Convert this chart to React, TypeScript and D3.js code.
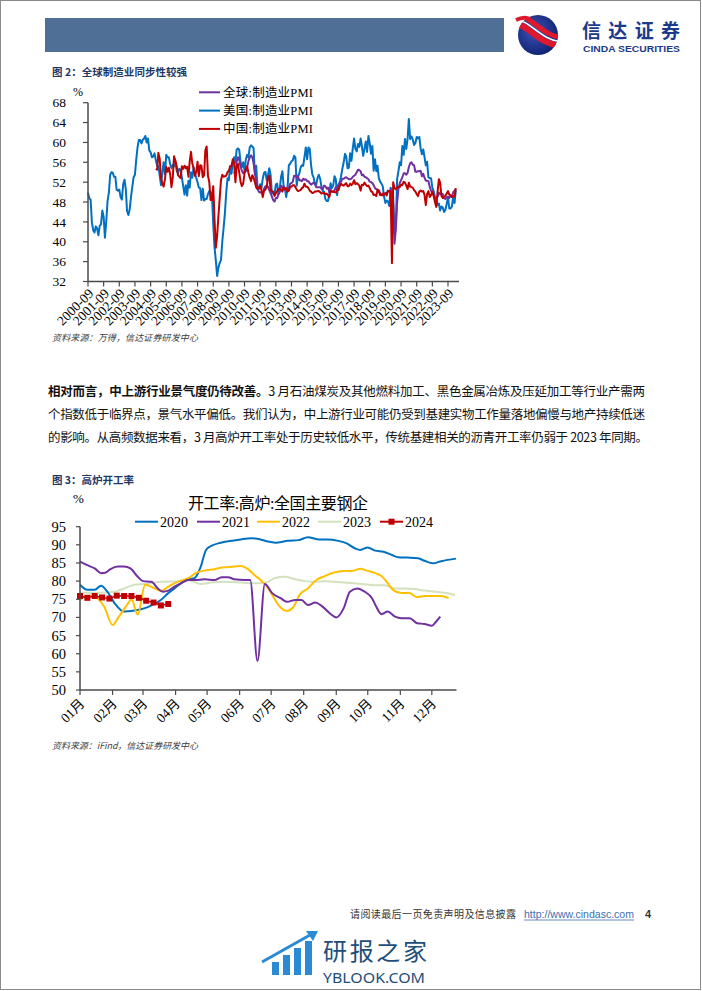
import React from 'react';
import * as d3 from 'd3';

const SERIF = "'Liberation Serif', 'Noto Sans CJK SC', serif";
const CJK = "'Noto Sans CJK SC', 'Noto Sans', sans-serif";

// 图2: 月度 PMI
const usStart = '2000-09';
const usPmi = [
  49.9, 48.7, 48.5, 43.9,
  42.3, 41.9, 43.1, 42.7, 41.3, 43.2, 43.5, 46.3, 45.0, 40.8, 44.1, 48.2,
  49.9, 53.5, 54.0, 53.9, 53.1, 53.1, 50.5, 50.3, 50.5, 49.0, 48.5, 51.6,
  52.5, 50.5, 46.2, 45.4, 46.5, 49.0, 51.0, 53.0, 53.5, 56.5, 59.0, 60.5,
  60.5, 59.8, 60.5, 60.8, 61.3, 60.0, 60.8, 58.4, 58.0, 57.0, 57.2, 57.8,
  56.4, 55.3, 55.2, 53.3, 51.4, 53.8, 56.0, 53.6, 57.5, 57.0, 57.0, 55.6,
  54.8, 55.5, 55.2, 56.0, 54.4, 53.8, 54.7, 54.5, 52.9, 51.2, 49.5, 51.4,
  49.3, 52.3, 50.9, 54.0, 52.9, 55.0, 53.8, 52.9, 52.0, 50.9, 50.8, 48.4,
  50.7, 48.3, 48.6, 48.6, 49.6, 50.2, 50.0, 49.9, 43.5, 38.9, 36.2, 33.1,
  34.9, 35.8, 36.3, 40.1, 42.8, 45.8, 49.9, 52.8, 52.4, 55.2, 53.7, 55.9,
  57.0, 56.0, 58.5, 58.8, 58.5, 56.0, 55.0, 56.0, 54.4, 56.5, 57.5, 57.0,
  59.0, 59.4, 59.2, 58.8, 53.5, 55.3, 50.9, 50.6, 51.6, 50.8, 52.7, 53.9,
  54.1, 52.4, 53.4, 54.8, 53.5, 49.7, 49.8, 49.6, 51.5, 51.7, 49.5, 50.7,
  53.1, 54.2, 51.3, 50.7, 49.0, 50.9, 55.4, 55.7, 56.2, 56.4, 57.3, 57.0,
  51.3, 53.2, 53.7, 54.9, 55.4, 55.3, 57.1, 59.0, 56.6, 59.0, 58.7, 55.5,
  53.5, 52.9, 51.5, 51.5, 52.8, 53.5, 52.7, 51.1, 50.2, 50.1, 48.6, 48.2,
  48.2, 49.5, 51.8, 50.8, 51.3, 53.2, 52.6, 49.4, 51.5, 51.9, 53.2, 54.7,
  56.0, 57.7, 57.2, 54.8, 54.9, 57.8, 56.3, 58.8, 60.8, 58.7, 58.2, 59.7,
  59.1, 60.8, 59.3, 57.3, 58.7, 60.2, 58.1, 61.3, 59.8, 57.7, 59.3, 54.3,
  56.6, 54.2, 55.3, 52.8, 52.1, 51.7, 51.2, 49.1, 47.8, 48.3, 48.1, 47.2,
  50.9, 50.1, 49.1, 41.5, 43.1, 52.6, 54.2, 56.0, 55.4, 59.3, 57.5, 60.7,
  58.7, 60.8, 64.7, 60.7, 61.2, 60.6, 59.5, 59.9, 61.1, 60.8, 61.1, 58.8,
  57.6, 58.6, 57.1, 55.4, 56.1, 53.0, 52.8, 52.8, 50.9, 50.2, 49.0, 48.4,
  47.4, 47.7, 46.3, 47.1, 46.9, 46.0, 46.4, 47.6, 49.0, 46.7, 46.7, 47.1,
  49.1, 47.8, 50.3,
];

const chinaStart = '2005-01';
const chinaPmi = [
  54.7, 54.5, 57.9, 56.7, 52.9, 51.7, 51.1, 52.6, 55.1, 54.1, 54.9, 53.6,
  51.0, 53.0, 57.2, 56.4, 55.3, 53.4, 53.1, 52.8, 55.2, 54.7, 55.3, 54.8,
  55.1, 53.1, 56.1, 58.1, 55.8, 54.8, 53.3, 54.0, 56.1, 53.2, 55.4, 55.3,
  53.0, 53.4, 58.4, 59.2, 53.3, 52.0, 48.4, 48.4, 51.2, 44.6, 38.8, 41.2,
  45.3, 49.0, 52.4, 53.5, 53.1, 53.2, 53.3, 54.0, 54.3, 55.2, 55.2, 56.6,
  55.8, 52.0, 55.1, 55.7, 53.9, 52.1, 51.2, 51.7, 53.8, 54.7, 55.2, 53.9,
  52.9, 52.2, 53.4, 52.9, 52.0, 50.9, 50.7, 50.9, 51.2, 50.4, 49.0, 50.3,
  50.5, 51.0, 53.1, 53.3, 50.4, 50.2, 50.1, 49.2, 49.8, 50.2, 50.6, 50.6,
  50.4, 50.1, 50.9, 50.6, 50.8, 50.1, 50.3, 51.0, 51.1, 51.4, 51.4, 51.0,
  50.5, 50.2, 50.3, 50.4, 50.8, 51.0, 51.7, 51.1, 51.1, 50.8, 50.3, 50.1,
  49.8, 49.9, 50.1, 50.1, 50.2, 50.2, 50.0, 49.7, 49.8, 49.8, 49.6, 49.7,
  49.4, 49.0, 50.2, 50.1, 50.1, 50.0, 49.9, 50.4, 50.4, 51.2, 51.7, 51.4,
  51.3, 51.6, 51.8, 51.2, 51.2, 51.7, 51.4, 51.7, 52.4, 51.6, 51.8, 51.6,
  51.3, 50.3, 51.5, 51.4, 51.9, 51.5, 51.2, 51.3, 50.8, 50.2, 50.0, 49.4,
  49.5, 49.2, 50.5, 50.1, 49.4, 49.4, 49.7, 49.5, 49.8, 49.3, 50.2, 50.2,
  50.0, 35.7, 52.0, 50.8, 50.6, 50.9, 51.1, 51.0, 51.5, 51.4, 52.1, 51.9,
  51.3, 50.6, 51.9, 51.1, 51.0, 50.9, 50.4, 50.1, 49.6, 49.2, 50.1, 50.3,
  50.1, 50.2, 49.5, 47.4, 49.6, 50.2, 49.0, 49.4, 50.1, 49.2, 48.0, 47.0,
  50.1, 52.6, 51.9, 49.2, 48.8, 49.0, 49.3, 49.7, 50.2, 49.5, 49.4, 49.0,
  49.2, 49.1, 50.8,
];

const globalStart = '2010-01';
const globalPmi = [
  54.1, 53.4, 56.1, 57.0, 56.5, 55.1, 54.3, 53.8, 54.1, 54.2, 55.0, 56.2,
  57.0, 57.4, 57.0, 55.8, 53.9, 52.2, 50.6, 50.1, 49.9, 50.0, 49.6, 50.7,
  51.2, 51.2, 51.1, 50.4, 49.8, 49.1, 48.4, 48.1, 48.8, 48.8, 49.6, 50.0,
  51.3, 50.9, 51.1, 50.5, 50.6, 50.6, 50.8, 51.7, 51.8, 52.1, 53.3, 53.3,
  53.0, 53.2, 52.4, 52.4, 52.2, 52.7, 52.5, 52.6, 52.2, 52.2, 51.8, 51.5,
  51.7, 51.9, 51.8, 51.0, 51.0, 51.0, 51.0, 50.7, 50.6, 51.3, 51.2, 50.7,
  50.9, 50.0, 50.5, 50.1, 50.0, 50.4, 51.0, 50.8, 51.0, 52.0, 52.1, 52.7,
  52.7, 52.9, 53.0, 52.8, 52.6, 52.6, 52.7, 53.1, 53.3, 53.5, 54.0, 54.5,
  54.4, 54.2, 53.4, 53.5, 53.1, 53.0, 52.8, 52.6, 52.1, 52.0, 51.8, 51.4,
  50.8, 50.6, 50.5, 50.4, 49.8, 49.4, 49.3, 49.5, 49.7, 49.8, 50.3, 50.1,
  50.4, 47.1, 47.6, 39.6, 42.4, 47.9, 50.6, 51.8, 52.4, 53.0, 53.8, 53.8,
  53.5, 53.9, 55.0, 55.8, 56.0, 55.5, 55.4, 54.1, 54.1, 54.2, 54.2, 54.3,
  53.2, 53.7, 52.9, 52.3, 52.3, 52.2, 51.1, 50.3, 49.8, 49.4, 48.8, 48.6,
  49.1, 49.9, 49.6, 49.6, 49.6, 48.8, 48.6, 49.0, 49.1, 48.8, 49.3, 49.0,
  50.0, 50.3, 50.6,
];

const pmiTicks = [32, 36, 40, 44, 48, 52, 56, 60, 64, 68];
const yearLabels = [
  '2000-09', '2001-09', '2002-09', '2003-09', '2004-09', '2005-09', '2006-09', '2007-09',
  '2008-09', '2009-09', '2010-09', '2011-09', '2012-09', '2013-09', '2014-09', '2015-09',
  '2016-09', '2017-09', '2018-09', '2019-09', '2020-09', '2021-09', '2022-09', '2023-09',
];
const pmiNames = ['全球:制造业PMI', '美国:制造业PMI', '中国:制造业PMI'];

// 图3: 高炉开工率 (周度, %)
const bf2020 = [
  ['01-01', 79.0], ['01-08', 77.6], ['01-15', 77.6], ['01-21', 78.7], ['01-27', 77.1],
  ['02-03', 73.9], ['02-12', 71.6], ['02-22', 71.9], ['03-02', 72.5], ['03-08', 73.2],
  ['03-18', 74.8], ['03-25', 76.7], ['03-31', 78.0], ['04-06', 79.4], ['04-13', 80.5],
  ['04-19', 80.8], ['04-25', 84.0], ['04-30', 88.6], ['05-05', 89.7], ['05-14', 90.6],
  ['05-24', 91.1], ['06-02', 91.5], ['06-12', 91.8], ['06-21', 91.5], ['06-28', 90.9],
  ['07-05', 90.6], ['07-17', 91.1], ['07-27', 91.3], ['08-05', 92.1], ['08-15', 91.5],
  ['08-24', 91.5], ['09-03', 91.1], ['09-11', 90.4], ['09-19', 89.0], ['09-24', 88.6],
  ['10-01', 89.3], ['10-08', 88.4], ['10-16', 88.1], ['10-24', 87.2], ['10-30', 86.6],
  ['11-08', 86.5], ['11-18', 86.3], ['11-24', 85.6], ['12-02', 84.9], ['12-10', 85.5],
  ['12-24', 86.2],
];
const bf2021 = [
  ['01-01', 85.4], ['01-08', 84.4], ['01-15', 83.5], ['01-21', 82.2], ['01-25', 82.3],
  ['01-30', 83.3], ['02-06', 84.0], ['02-12', 84.0], ['02-18', 83.5], ['02-25', 81.2],
  ['03-01', 80.0], ['03-09', 79.8], ['03-15', 78.0], ['03-20', 77.1], ['03-25', 77.4],
  ['03-31', 78.5], ['04-06', 79.4], ['04-13', 80.3], ['04-19', 80.3], ['04-29', 80.5],
  ['05-08', 80.3], ['05-15', 81.1], ['05-21', 81.1], ['05-27', 80.5], ['06-06', 80.3],
  ['06-11', 80.3], ['06-18', 58.0], ['06-25', 79.2], ['07-02', 76.7], ['07-10', 75.3],
  ['07-16', 74.3], ['07-24', 74.8], ['07-30', 74.8], ['08-05', 73.4], ['08-12', 74.1],
  ['08-18', 73.2], ['08-26', 71.1], ['09-01', 70.0], ['09-08', 72.5], ['09-14', 77.1],
  ['09-21', 78.0], ['09-28', 77.1], ['10-05', 75.3], ['10-09', 73.0], ['10-14', 70.9],
  ['10-20', 71.6], ['10-27', 70.2], ['11-02', 69.8], ['11-10', 69.8], ['11-17', 68.4],
  ['11-24', 68.2], ['12-01', 67.7], ['12-05', 68.8], ['12-09', 70.2],
];
const bf2022 = [
  ['01-01', 74.8], ['01-05', 75.7], ['01-12', 76.0], ['01-24', 73.0], ['02-01', 67.9],
  ['02-07', 70.2], ['02-15', 73.5], ['02-19', 75.0], ['02-25', 70.8], ['03-03', 79.0],
  ['03-12', 78.0], ['03-18', 77.3], ['03-25', 78.5], ['03-31', 79.4], ['04-06', 80.1],
  ['04-13', 80.8], ['04-20', 82.2], ['04-28', 82.9], ['05-08', 83.3], ['05-17', 83.8],
  ['05-27', 84.0], ['06-02', 84.2], ['06-09', 83.3], ['06-15', 81.7], ['06-21', 80.3],
  ['06-28', 78.0], ['07-02', 76.2], ['07-08', 73.4], ['07-16', 71.8], ['07-22', 72.8],
  ['07-28', 76.2], ['08-05', 78.0], ['08-13', 80.3], ['08-21', 81.4], ['08-29', 82.3],
  ['09-08', 82.8], ['09-16', 82.8], ['09-24', 83.4], ['09-30', 82.9], ['10-08', 82.2],
  ['10-14', 81.4], ['10-19', 79.8], ['10-25', 77.6], ['11-02', 76.7], ['11-09', 76.8],
  ['11-17', 75.6], ['11-24', 75.9], ['12-04', 75.9], ['12-10', 75.9], ['12-17', 75.3],
];
const bf2023 = [
  ['01-01', 76.8], ['01-18', 76.8], ['02-03', 77.1], ['02-22', 79.0], ['03-02', 79.2],
  ['03-18', 79.8], ['04-03', 80.0], ['04-13', 80.3], ['04-25', 79.2], ['05-05', 79.6],
  ['05-17', 79.8], ['06-02', 79.6], ['06-18', 79.4], ['06-28', 79.8], ['07-04', 80.8],
  ['07-14', 81.2], ['07-24', 80.5], ['08-02', 80.0], ['08-11', 79.8], ['08-21', 80.0],
  ['08-30', 79.8], ['09-09', 79.6], ['09-18', 79.4], ['09-28', 79.1], ['10-08', 78.9],
  ['10-17', 78.9], ['10-27', 78.0], ['11-05', 78.0], ['11-15', 77.8], ['11-24', 77.4],
  ['12-04', 77.1], ['12-13', 76.8], ['12-23', 76.2],
];
const bf2024 = [
  ['01-01', 75.9], ['01-08', 75.4], ['01-15', 75.9], ['01-22', 75.5], ['01-29', 75.2],
  ['02-05', 76.0], ['02-12', 75.9], ['02-19', 75.9], ['02-26', 75.4], ['03-04', 74.6],
  ['03-11', 74.1], ['03-18', 73.3], ['03-25', 73.7],
];
const bfTicks = [50, 55, 60, 65, 70, 75, 80, 85, 90, 95];
const monthLabels = ['01月', '02月', '03月', '04月', '05月', '06月', '07月', '08月', '09月', '10月', '11月', '12月'];
const bfNames = ['2020', '2021', '2022', '2023', '2024'];

const pmiColors = ['#7030A0', '#0070C0', '#C00000'];
const bfColors = ['#0070C0', '#7030A0', '#FFC000', '#D4E1BE', '#C00000'];
const AXIS = '#4a4a4a';

const parseMonth = d3.timeParse('%Y-%m');
const parseDay = d3.timeParse('%Y-%m-%d');

const monthly = (start: string, values: number[]) => {
  const d0 = parseMonth(start) as Date;
  return values.map((v, i) => ({ date: d3.timeMonth.offset(d0, i), value: v }));
};
const weekly = (rows: (string | number)[][]) =>
  rows.map(r => ({ date: parseDay('2020-' + r[0]) as Date, value: r[1] as number }));

function PmiChart() {
  const x = d3.scaleTime()
    .domain([parseMonth('2000-09') as Date, parseMonth('2024-03') as Date])
    .range([88, 455.8]);
  const y = d3.scaleLinear().domain([32, 68]).range([281.5, 102.7]);
  const line = d3.line<{ date: Date; value: number }>()
    .x(d => x(d.date))
    .y(d => y(d.value));
  const series = [monthly(usStart, usPmi), monthly(globalStart, globalPmi), monthly(chinaStart, chinaPmi)];
  const seriesColor = [pmiColors[1], pmiColors[0], pmiColors[2]];

  return (
    <g>
      <text x={52} y={76} fontSize={10.5} fontWeight="bold" fill="#1f3864" fontFamily={CJK} textLength={135} lengthAdjust="spacing">图 2：全球制造业同步性较强</text>
      <text x={73} y={96} fontSize={12} fontFamily={SERIF}>%</text>
      {series.map((s, i) => (
        <path key={i} d={line(s) || ''} fill="none" stroke={seriesColor[i]} strokeWidth={2} strokeLinejoin="round" />
      ))}
      <line x1={88} x2={88} y1={102.7} y2={281.5} stroke={AXIS} strokeWidth={1.5} />
      <line x1={88} x2={459} y1={281.5} y2={281.5} stroke={AXIS} strokeWidth={1.5} />
      {pmiTicks.map(t => (
        <g key={t}>
          <line x1={83} x2={88} y1={y(t)} y2={y(t)} stroke={AXIS} strokeWidth={1.2} />
          <text x={66} y={y(t)} dy="0.35em" textAnchor="end" fontSize={13.5} fontFamily={SERIF}>{t}</text>
        </g>
      ))}
      {yearLabels.map(l => {
        const tx = x(parseMonth(l) as Date);
        return (
          <g key={l}>
            <line x1={tx} x2={tx} y1={281.5} y2={286.5} stroke={AXIS} strokeWidth={1.2} />
            <text x={tx + 3} y={291} dy="0.35em" textAnchor="end" fontSize={13.5} fontFamily={SERIF}
              transform={`rotate(-45 ${tx + 3} 291)`}>{l}</text>
          </g>
        );
      })}
      {pmiNames.map((n, i) => (
        <g key={n}>
          <line x1={199} x2={220} y1={92.3 + i * 18.3} y2={92.3 + i * 18.3} stroke={pmiColors[i]} strokeWidth={2} />
          <text x={223} y={92.3 + i * 18.3} dy="0.35em" fontSize={12.5} fontFamily={SERIF} textLength={90} lengthAdjust="spacing">{n}</text>
        </g>
      ))}
      <text x={52} y={341} fontSize={9} fontStyle="italic" fill="#404040" fontFamily={CJK} textLength={146} lengthAdjust="spacing">资料来源：万得，信达证券研发中心</text>
    </g>
  );
}

function BlastChart() {
  const x = d3.scaleTime()
    .domain([parseDay('2020-01-01') as Date, parseDay('2020-12-24') as Date])
    .range([80, 456]);
  const y = d3.scaleLinear().domain([50, 95]).range([690, 526.7]);
  const line = d3.line<{ date: Date; value: number }>()
    .x(d => x(d.date))
    .y(d => y(d.value))
    .curve(d3.curveMonotoneX);
  const series = [bf2020, bf2021, bf2022, bf2023].map(weekly);
  const order = [3, 0, 2, 1];
  const s24 = weekly(bf2024);
  const line24 = d3.line<{ date: Date; value: number }>().x(d => x(d.date)).y(d => y(d.value));
  const monthTicks = d3.timeMonth.range(parseDay('2020-01-01') as Date, parseDay('2020-12-02') as Date);
  const legendX = [135, 197, 257, 318, 380];

  return (
    <g>
      <text x={52} y={484} fontSize={10.5} fontWeight="bold" fill="#1f3864" fontFamily={CJK} textLength={82} lengthAdjust="spacing">图 3：高炉开工率</text>
      <text x={73} y={503} fontSize={13} fontFamily={SERIF}>%</text>
      <text x={278} y={509} textAnchor="middle" fontSize={16} fontFamily={SERIF} textLength={180} lengthAdjust="spacing">开工率:高炉:全国主要钢企</text>
      {order.map(i => (
        <path key={i} d={line(series[i]) || ''} fill="none" stroke={bfColors[i]} strokeWidth={2} strokeLinejoin="round" />
      ))}
      <path d={line24(s24) || ''} fill="none" stroke={bfColors[4]} strokeWidth={1.5} />
      {s24.map((d, i) => (
        <rect key={i} x={x(d.date) - 3} y={y(d.value) - 3} width={6} height={6} fill={bfColors[4]} />
      ))}
      <line x1={80} x2={80} y1={526.7} y2={690} stroke={AXIS} strokeWidth={1.5} />
      <line x1={80} x2={456.5} y1={690} y2={690} stroke={AXIS} strokeWidth={1.5} />
      {bfTicks.map(t => (
        <g key={t}>
          <line x1={76} x2={80} y1={y(t)} y2={y(t)} stroke={AXIS} strokeWidth={1.2} />
          <text x={66} y={y(t)} dy="0.35em" textAnchor="end" fontSize={14.5} fontFamily={SERIF}>{t}</text>
        </g>
      ))}
      {monthTicks.map((m, i) => {
        const tx = x(m);
        return (
          <g key={i}>
            <line x1={tx} x2={tx} y1={690} y2={695} stroke={AXIS} strokeWidth={1.2} />
            <text x={tx + 2} y={701} dy="0.35em" textAnchor="end" fontSize={13.5} fontFamily={SERIF}
              transform={`rotate(-45 ${tx + 2} 701)`}>{monthLabels[i]}</text>
          </g>
        );
      })}
      {bfNames.map((n, i) => (
        <g key={n}>
          <line x1={legendX[i]} x2={legendX[i] + 23} y1={521.7} y2={521.7} stroke={bfColors[i]} strokeWidth={2} />
          {i === 4 && <rect x={legendX[i] + 8.5} y={518.7} width={6} height={6} fill={bfColors[4]} />}
          <text x={legendX[i] + 25} y={521.7} dy="0.35em" fontSize={14} fontFamily={SERIF}>{n}</text>
        </g>
      ))}
      <text x={52} y={749} fontSize={9} fontStyle="italic" fill="#404040" fontFamily={CJK} textLength={146} lengthAdjust="spacing">资料来源：iFind，信达证券研发中心</text>
    </g>
  );
}

function Header() {
  return (
    <g>
      <rect x={45} y={18} width={459} height={34} fill="#4f6f96" />
      <defs>
        <radialGradient id="lg" cx="40%" cy="40%" r="70%">
          <stop offset="0%" stopColor="#3d52b8" />
          <stop offset="100%" stopColor="#0c1d6b" />
        </radialGradient>
        <clipPath id="lc"><circle cx={538} cy={35} r={20} /></clipPath>
      </defs>
      <circle cx={538} cy={35} r={20} fill="url(#lg)" />
      <g clipPath="url(#lc)">
        <path d="M512,24 C528,22 536,44 562,46" fill="none" stroke="#e0182d" strokeWidth={6} />
        <path d="M514,16 C532,14 540,36 564,38" fill="none" stroke="#e0182d" strokeWidth={5} />
        <path d="M513,20 C530,18 538,40 563,42" fill="none" stroke="#ffffff" strokeWidth={1.6} />
      </g>
      <path d="M516,20 C522,17 526,17 530,19" fill="none" stroke="#e0182d" strokeWidth={4} />
      <text x={582} y={38} fontSize={19} fontWeight="bold" fill="#1d3a8a" fontFamily={CJK} textLength={98} lengthAdjust="spacing">信达证券</text>
      <text x={583} y={52} fontSize={9} fontWeight="bold" fill="#1d3a8a" fontFamily="'Liberation Sans', sans-serif" textLength={97} lengthAdjust="spacingAndGlyphs">CINDA SECURITIES</text>
    </g>
  );
}

function Paragraph() {
  return (
    <g fontFamily={CJK} fontSize={12.5} fill="#111">
      <text x={48} y={395.5} textLength={597} lengthAdjust="spacing">
        <tspan fontWeight="bold">相对而言，中上游行业景气度仍待改善。</tspan>3 月石油煤炭及其他燃料加工、黑色金属冶炼及压延加工等行业产需两
      </text>
      <text x={48} y={418.5} textLength={597} lengthAdjust="spacing">个指数低于临界点，景气水平偏低。我们认为，中上游行业可能仍受到基建实物工作量落地偏慢与地产持续低迷</text>
      <text x={48} y={441.5} textLength={600} lengthAdjust="spacing">的影响。从高频数据来看，3 月高炉开工率处于历史较低水平，传统基建相关的沥青开工率仍弱于 2023 年同期。</text>
    </g>
  );
}

function Footer() {
  return (
    <g>
      <text x={350} y={918} fontSize={10} fill="#333" fontFamily={CJK} textLength={166} lengthAdjust="spacing">请阅读最后一页免责声明及信息披露</text>
      <text x={524} y={918} fontSize={11} fill="#3e6fb0" fontFamily="'Liberation Sans', sans-serif" textLength={110} lengthAdjust="spacingAndGlyphs">http://www.cindasc.com</text>
      <line x1={524} x2={634} y1={920} y2={920} stroke="#3e6fb0" strokeWidth={0.8} />
      <text x={645} y={918} fontSize={11} fontWeight="bold" fill="#333" fontFamily="'Liberation Sans', sans-serif">4</text>
      <g fill="#2b8ad4">
        <rect x={272} y={962} width={7} height={13} />
        <rect x={283} y={955} width={7} height={20} />
        <rect x={294} y={948} width={7} height={27} />
        <rect x={305} y={941} width={7} height={34} />
      </g>
      <path d="M262,962 L310,935" stroke="#2b8ad4" strokeWidth={3} fill="none" />
      <path d="M318,931 L306,931 L313,941 Z" fill="#2b8ad4" />
      <text x={323} y={960} fontSize={24} fill="#1e4e79" fontFamily={CJK} textLength={104} lengthAdjust="spacing">研报之家</text>
      <text x={323} y={983} fontSize={14} fill="#1e4e79" fontFamily="'Noto Sans', sans-serif" textLength={102} lengthAdjust="spacingAndGlyphs">YBLOOK.COM</text>
    </g>
  );
}

export default function App() {
  return (
    <div style={{ position: 'absolute', left: 0, top: 0 }}>
      <svg width={702} height={991} style={{ display: 'block', background: '#fff' }}>
        <rect x={0.5} y={0.5} width={700} height={989} fill="#fff" stroke="#8a8a8a" strokeWidth={1} />
        <Header />
        <PmiChart />
        <Paragraph />
        <BlastChart />
        <Footer />
      </svg>
    </div>
  );
}
